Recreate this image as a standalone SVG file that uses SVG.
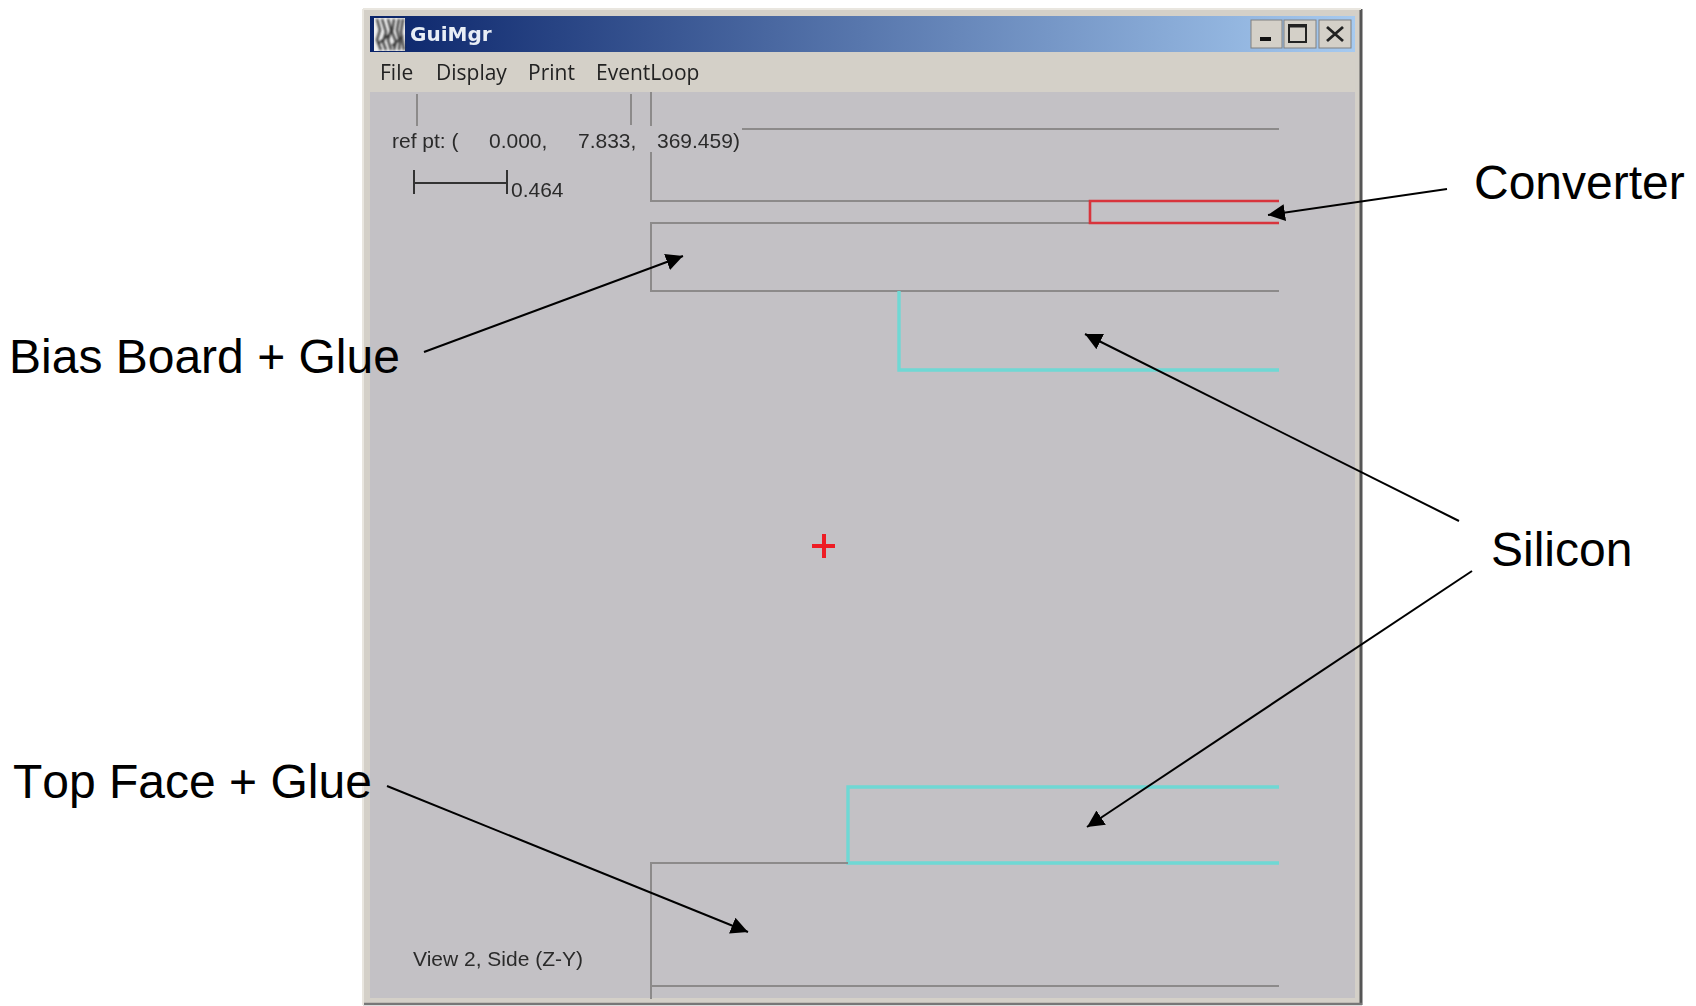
<svg xmlns="http://www.w3.org/2000/svg" width="1696" height="1006" viewBox="0 0 1696 1006">
<style>
.lbl{font-family:"Liberation Sans",Arial,sans-serif;font-size:48px;fill:#000;font-kerning:none}
.ui{font-family:"Open Sans","Liberation Sans",sans-serif;font-size:21px;fill:#222;filter:url(#soft)}
.cv{font-family:"Liberation Sans",Arial,sans-serif;font-size:21px;fill:#2c2c2c;filter:url(#soft)}
.g{fill:none;stroke:#8c8a8a;stroke-width:2}
.c{fill:none;stroke:#6fd8d4;stroke-width:3.4}
.r{fill:none;stroke:#d8343c;stroke-width:2.6}
.a{stroke:#000;stroke-width:2;fill:none;marker-end:url(#ah)}
.b{fill:#d4d0c8;stroke:#808080;stroke-width:1}
</style>
<defs>
<linearGradient id="tb" x1="0" x2="1" y1="0" y2="0"><stop offset="0" stop-color="#0a246a"/><stop offset="1" stop-color="#a6caf0"/></linearGradient>
<filter id="soft" x="-5%" y="-20%" width="110%" height="140%"><feGaussianBlur stdDeviation="0.45"/></filter>
<filter id="soft2" x="-10%" y="-10%" width="120%" height="120%"><feGaussianBlur stdDeviation="0.8"/></filter>
<marker id="ah" markerUnits="userSpaceOnUse" markerWidth="20" markerHeight="18" refX="17" refY="8.5" orient="auto"><path d="M0 0L17 8.5L0 17z" fill="#000"/></marker>
</defs>
<rect width="1696" height="1006" fill="#fff"/>
<g id="window">
<rect x="363" y="9" width="998" height="996" fill="#d4d0c8"/>
<path d="M1361 9V1005" stroke="#555" stroke-width="3"/>
<path d="M363 1004H1362" stroke="#777" stroke-width="2.5"/>
<path d="M363 9V1005M363 9H1361" stroke="#e9e6df" stroke-width="2"/>
<rect x="370" y="16" width="985" height="36" fill="url(#tb)"/>
<rect x="370" y="92" width="985" height="906" fill="#c3c1c5"/>
</g>
<g id="titlebar">
<rect x="374" y="18" width="31" height="33" fill="#eeeeee"/>
<path d="M377 19L380 30L377 40L381 50M382 19L386 32L383 42L386 50M388 19L391 30L388 40L391 50M394 19L392 32L396 42L394 50M399 19L397 30L400 42L399 50M403 19L401 32L404 50M378 44L390 34M392 46L403 36" stroke="#333" stroke-width="2.2" fill="none" filter="url(#soft2)"/>
<text x="410" y="41" font-family="'DejaVu Sans',Verdana,sans-serif" font-weight="700" font-size="20" fill="#e8eef6" filter="url(#soft)">GuiMgr</text>
<g id="btn-min"><rect x="1251" y="20" width="31" height="28" class="b"/><rect x="1260" y="37" width="11" height="4" fill="#111"/></g>
<g id="btn-max"><rect x="1284" y="20" width="32" height="28" class="b"/><rect x="1289" y="25" width="17" height="17" fill="none" stroke="#222" stroke-width="2"/><path d="M1289 26H1306" stroke="#222" stroke-width="3"/></g>
<g id="btn-close"><rect x="1319" y="20" width="32" height="28" class="b"/><path d="M1327 27L1343 41M1343 27L1327 41" stroke="#222" stroke-width="2.8"/></g>
</g>
<g id="menu">
<text class="ui" x="380" y="80">File</text>
<text class="ui" x="436" y="80">Display</text>
<text class="ui" x="528" y="80">Print</text>
<text class="ui" x="596" y="80">EventLoop</text>
</g>
<g id="canvas-info">
<path class="g" d="M417 94V126M631 94V125"/>
<text class="cv" x="392" y="148">ref pt: (</text>
<text class="cv" x="489" y="148">0.000,</text>
<text class="cv" x="578" y="148">7.833,</text>
<text class="cv" x="657" y="148">369.459)</text>
<path d="M414 170V194M414 183H507M507 170V194" fill="none" stroke="#333" stroke-width="2"/>
<text class="cv" x="511" y="197">0.464</text>
<text class="cv" x="413" y="966">View 2, Side (Z-Y)</text>
</g>
<g id="upper-layer"><path class="g" d="M651 92V126M651 152V201H1090M742 129H1279"/></g>
<g id="bias-board"><path class="g" d="M1090 223H651V291H1279"/></g>
<g id="converter"><path class="r" d="M1279 201H1090V223H1279"/></g>
<g id="silicon-upper"><path class="c" d="M899 291V370H1279"/></g>
<g id="silicon-lower"><path class="c" d="M1279 787H848V863H1279"/></g>
<g id="top-face"><path class="g" d="M848 863H651V999M651 986H1279"/></g>
<g id="ref-mark"><path d="M812 546H835M824 534V558" stroke="#ee1c24" stroke-width="4" fill="none"/></g>
<g id="connectors">
<path class="a" d="M1447 189L1268 215"/>
<path class="a" d="M424 352L683 256"/>
<path class="a" d="M1459 521L1085 334"/>
<path class="a" d="M1472 571L1087 827"/>
<path class="a" d="M387 786L748 932"/>
</g>
<g id="labels">
<text class="lbl" x="1474" y="199">Converter</text>
<text class="lbl" x="9" y="373">Bias Board + Glue</text>
<text class="lbl" x="1491" y="566">Silicon</text>
<text class="lbl" x="13" y="798">Top Face + Glue</text>
</g>
</svg>
